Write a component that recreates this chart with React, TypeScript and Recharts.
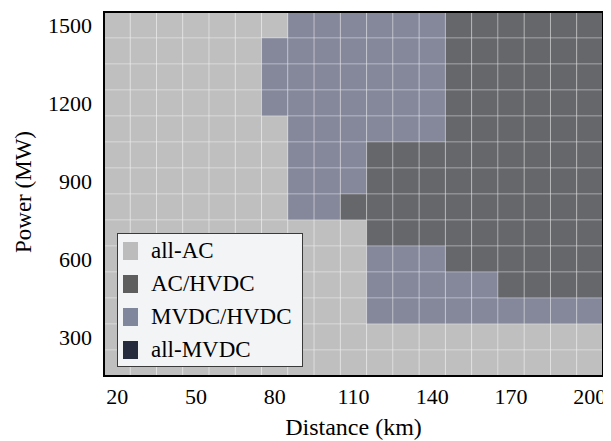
import { ScatterChart, XAxis, YAxis, ReferenceArea, Legend, Label } from 'recharts';

const DISTANCES = [20, 30, 40, 50, 60, 70, 80, 90, 100, 110, 120, 130, 140, 150, 160, 170, 180, 190, 200];
const POWERS = [1500, 1400, 1300, 1200, 1100, 1000, 900, 800, 700, 600, 500, 400, 300, 200];

const REGIMES = ['all-AC', 'AC/HVDC', 'MVDC/HVDC', 'all-MVDC'];
const REGIME_COLORS = ['#bfbfbf', '#66676b', '#84889a', '#262c3d'];
const LEGEND_COLORS = ['#bcbcbc', '#5e5e5e', '#80869b', '#262c3d'];

const X_TICKS = [20, 50, 80, 110, 140, 170, 200];
const Y_TICKS = [300, 600, 900, 1200, 1500];

// best regime per cell: 0 all-AC, 1 AC/HVDC, 2 MVDC/HVDC, 3 all-MVDC
// one row per power level, top row = 1500 MW
const GRID = [
  [0, 0, 0, 0, 0, 0, 0, 2, 2, 2, 2, 2, 2, 1, 1, 1, 1, 1, 1],
  [0, 0, 0, 0, 0, 0, 2, 2, 2, 2, 2, 2, 2, 1, 1, 1, 1, 1, 1],
  [0, 0, 0, 0, 0, 0, 2, 2, 2, 2, 2, 2, 2, 1, 1, 1, 1, 1, 1],
  [0, 0, 0, 0, 0, 0, 2, 2, 2, 2, 2, 2, 2, 1, 1, 1, 1, 1, 1],
  [0, 0, 0, 0, 0, 0, 0, 2, 2, 2, 2, 2, 2, 1, 1, 1, 1, 1, 1],
  [0, 0, 0, 0, 0, 0, 0, 2, 2, 2, 1, 1, 1, 1, 1, 1, 1, 1, 1],
  [0, 0, 0, 0, 0, 0, 0, 2, 2, 2, 1, 1, 1, 1, 1, 1, 1, 1, 1],
  [0, 0, 0, 0, 0, 0, 0, 2, 2, 1, 1, 1, 1, 1, 1, 1, 1, 1, 1],
  [0, 0, 0, 0, 0, 0, 0, 0, 0, 0, 1, 1, 1, 1, 1, 1, 1, 1, 1],
  [0, 0, 0, 0, 0, 0, 0, 0, 0, 0, 2, 2, 2, 1, 1, 1, 1, 1, 1],
  [0, 0, 0, 0, 0, 0, 0, 0, 0, 0, 2, 2, 2, 2, 2, 1, 1, 1, 1],
  [0, 0, 0, 0, 0, 0, 0, 0, 0, 0, 2, 2, 2, 2, 2, 2, 2, 2, 2],
  [0, 0, 0, 0, 0, 0, 0, 0, 0, 0, 0, 0, 0, 0, 0, 0, 0, 0, 0],
  [0, 0, 0, 0, 0, 0, 0, 0, 0, 0, 0, 0, 0, 0, 0, 0, 0, 0, 0],
];

const FONT = 'Liberation Serif, Times New Roman, serif';
const DIST_STEP = 10;
const POWER_STEP = 100;

function RegimeLegend() {
  return (
    <div
      style={{
        background: '#f3f4f6',
        border: '1.5px solid #3a3a3a',
        padding: '0 8px 0 5px',
        fontFamily: FONT,
        fontSize: 23,
        color: '#000',
        boxSizing: 'border-box',
      }}
    >
      {REGIMES.map((name, i) => (
        <div key={name} style={{ display: 'flex', alignItems: 'center', height: 33 }}>
          <span
            style={{ display: 'inline-block', width: 15, height: 18, background: LEGEND_COLORS[i], marginRight: 13 }}
          />
          {name}
        </div>
      ))}
    </div>
  );
}

export default function App() {
  return (
    <div style={{ marginLeft: -8, marginTop: -8, width: 611, height: 441, background: '#fff', fontFamily: FONT }}>
      <ScatterChart width={611} height={441} margin={{ top: 12, right: 8, bottom: 0, left: 0 }}>
        <XAxis
          type="number"
          dataKey="x"
          domain={[15, 205]}
          ticks={X_TICKS}
          allowDataOverflow
          axisLine={false}
          tickLine={false}
          tickMargin={6}
          height={65}
          tick={{ fill: '#000', fontSize: 22, fontFamily: FONT }}
        >
          <Label
            content={({ viewBox }: any) => (
              <text
                x={viewBox.x + viewBox.width / 2}
                y={viewBox.y + 59}
                textAnchor="middle"
                fontSize={24}
                fontFamily={FONT}
                fill="#000"
              >
                Distance (km)
              </text>
            )}
          />
        </XAxis>
        <YAxis
          type="number"
          dataKey="y"
          domain={[150, 1550]}
          ticks={Y_TICKS}
          allowDataOverflow
          axisLine={false}
          tickLine={false}
          tickMargin={6}
          width={104}
          tick={{ fill: '#000', fontSize: 22, fontFamily: FONT }}
        >
          <Label
            content={({ viewBox }: any) => {
              const cx = viewBox.x + 23;
              const cy = viewBox.y + viewBox.height / 2 - 2;
              return (
                <text
                  x={cx}
                  y={cy}
                  transform={`rotate(-90 ${cx} ${cy})`}
                  textAnchor="middle"
                  dominantBaseline="central"
                  fontSize={23}
                  fontFamily={FONT}
                  fill="#000"
                >
                  Power (MW)
                </text>
              );
            }}
          />
        </YAxis>
        {GRID.flatMap((row, r) =>
          row.map((k, c) => (
            <ReferenceArea
              key={`cell-${r}-${c}`}
              x1={DISTANCES[c] - DIST_STEP / 2}
              x2={DISTANCES[c] + DIST_STEP / 2}
              y1={POWERS[r] - POWER_STEP / 2}
              y2={POWERS[r] + POWER_STEP / 2}
              fill={REGIME_COLORS[k]}
              fillOpacity={1}
              stroke="#ffffff"
              strokeOpacity={0.3}
              strokeWidth={1}
              ifOverflow="visible"
            />
          ))
        )}
        <ReferenceArea
          x1={15}
          x2={205}
          y1={150}
          y2={1550}
          fill="none"
          fillOpacity={0}
          stroke="#000"
          strokeWidth={2}
          ifOverflow="visible"
        />
        <Legend
          layout="vertical"
          align="center"
          verticalAlign="middle"
          content={() => <RegimeLegend />}
          wrapperStyle={{ left: 117, top: 233, width: 186, height: 132 }}
        />
      </ScatterChart>
    </div>
  );
}
